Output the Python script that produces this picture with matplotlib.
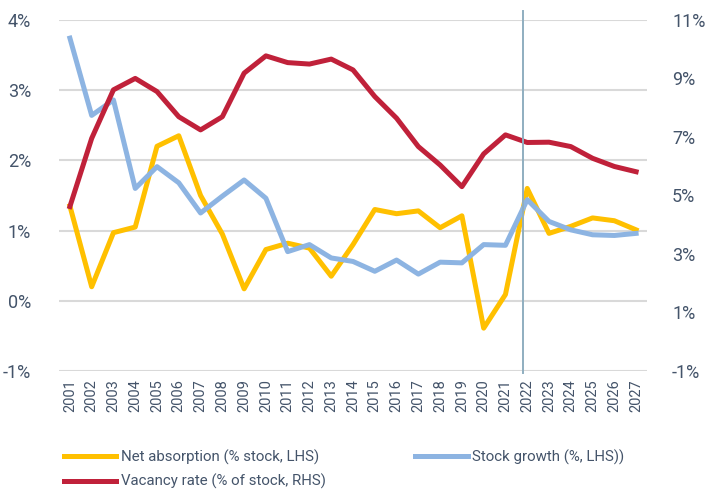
import matplotlib
matplotlib.use("Agg")
import matplotlib.pyplot as plt
import matplotlib.transforms as mtransforms

plt.rcParams['font.family'] = ['Roboto', 'DejaVu Sans']

years = [str(y) for y in range(2001, 2028)]

net_absorption = [1.35, 0.20, 0.97, 1.05, 2.20, 2.35, 1.50, 0.95, 0.17, 0.73,
                  0.82, 0.75, 0.35, 0.80, 1.30, 1.24, 1.28, 1.04, 1.21, -0.39,
                  0.09, 1.60, 0.96, 1.06, 1.18, 1.14, 1.01]
stock_growth = [3.74, 2.64, 2.86, 1.60, 1.91, 1.68, 1.25, 1.49, 1.72, 1.46,
                0.70, 0.80, 0.61, 0.56, 0.42, 0.58, 0.38, 0.55, 0.54, 0.80,
                0.79, 1.44, 1.13, 1.01, 0.94, 0.93, 0.96]
vacancy_rate = [4.62, 6.95, 8.61, 9.00, 8.55, 7.69, 7.24, 7.69, 9.18, 9.77,
                9.54, 9.49, 9.66, 9.29, 8.38, 7.64, 6.67, 6.04, 5.30, 6.42,
                7.07, 6.81, 6.82, 6.67, 6.27, 5.99, 5.81]

left_ticks = [-1, 0, 1, 2, 3, 4]
right_ticks = [-1, 1, 3, 5, 7, 9, 11]

text_col = '#44546A'
yellow = '#FFC000'
blue = '#8DB4E2'
red = '#C0213A'

fig = plt.figure(figsize=(7.11, 4.97), dpi=100)
ax = fig.add_axes([0.083, 0.2535, 0.827, 0.7065])
ax2 = ax.twinx()

x = list(range(len(years)))
l1, = ax.plot(x, net_absorption, color=yellow, lw=3.6, label='Net absorption (% stock, LHS)', zorder=3)
l2, = ax.plot(x, stock_growth, color=blue, lw=3.6, label='Stock growth (%, LHS))', zorder=3)
l3, = ax2.plot(x, vacancy_rate, color=red, lw=3.6, label='Vacancy rate (% of stock, RHS)', zorder=3)

ax.set_ylim(-1, 4)
ax.set_yticks(left_ticks)
ax.set_yticklabels([f'{t}%' for t in left_ticks])
ax2.set_ylim(-1, 11)
ax2.set_yticks(right_ticks)
ax2.set_yticklabels([f'{t}%' for t in right_ticks])
ax.set_xlim(-0.5, len(years) - 0.5)
ax.set_xticks(x)
ax.set_xticklabels(years, rotation=90)

ax.grid(axis='y', color='#D9D9D9', lw=1.5)
ax.set_axisbelow(True)
for a in (ax, ax2):
    for s in a.spines.values():
        s.set_visible(False)
    a.tick_params(length=0, colors=text_col)
ax.tick_params(axis='y', labelsize=13, pad=20)
ax.tick_params(axis='x', labelsize=10.5, pad=6)
ax2.tick_params(axis='y', labelsize=13, pad=18)

# forecast divider at 2022
trans = mtransforms.blended_transform_factory(ax.transData, ax.transAxes)
ax2.plot([20.82, 20.82], [-0.005, 1.026], transform=trans, color='#8FAEC0', lw=1.4,
         clip_on=False, zorder=4)

leg = fig.legend(handles=[l1, l3, l2], loc='upper left', bbox_to_anchor=(0.081, 0.107),
                 ncol=2, frameon=False, fontsize=10.8, handlelength=3.5, handletextpad=0.3,
                 columnspacing=6.0, labelspacing=0.6, borderaxespad=0)
for t in leg.get_texts():
    t.set_color(text_col)

fig.savefig('out.png', dpi=100)
